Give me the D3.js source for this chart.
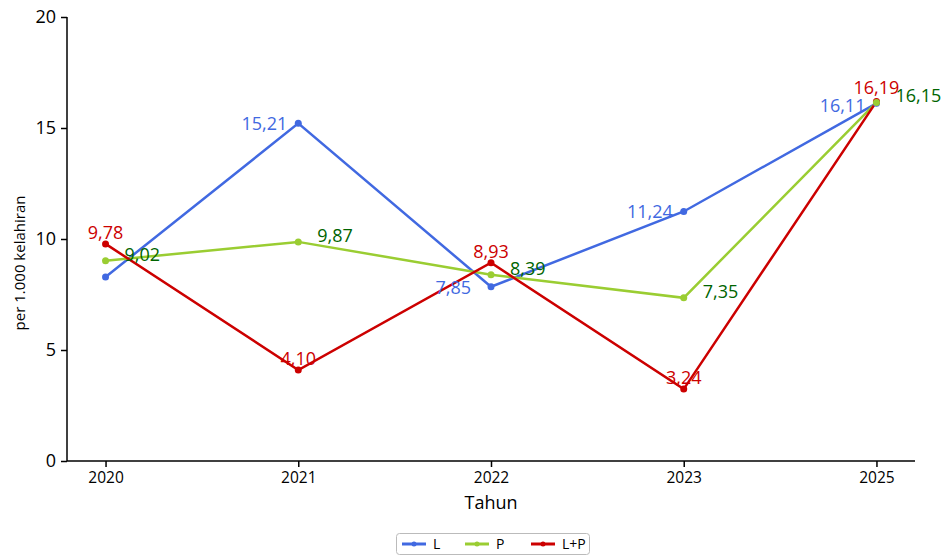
<!DOCTYPE html>
<html><head><meta charset="utf-8">
<script src="https://cdn.jsdelivr.net/npm/d3@7"></script>
<style>body{margin:0;background:#fff;font-family:"Open Sans",sans-serif;}</style>
</head><body>
<svg id="c" width="946" height="558" font-family="Open Sans"></svg>
<script>
const years = ["2020","2021","2022","2023","2025"];
const valL  = [8.29, 15.21, 7.85, 11.24, 16.11];
const valP  = [9.02, 9.87, 8.39, 7.35, 16.15];
const valLP = [9.78, 4.10, 8.93, 3.24, 16.19];
const showL = [false, true, true, true, true];
const yTicks = [0, 5, 10, 15, 20];
const seriesNames = ["L", "P", "L+P"];

const svg = d3.select("#c");
const m = {l:67, r:31, t:17, b:97};
const W = 946, H = 558;
const x = d3.scalePoint().domain(years).range([m.l, W - m.r]).padding(0.2);
const y = d3.scaleLinear().domain([0, 20]).range([H - m.b, m.t]);

const fmt = v => v.toFixed(2).replace(".", ",");

// axes
const gx = svg.append("g").attr("transform", `translate(0,${H - m.b})`)
  .call(d3.axisBottom(x).tickSizeOuter(0).tickSize(6).tickPadding(5));
const gy = svg.append("g").attr("transform", `translate(${m.l},0)`)
  .call(d3.axisLeft(y).tickValues(yTicks).tickSizeOuter(0).tickSize(6).tickPadding(5));
[gx, gy].forEach(g => {
  g.attr("font-family", "Open Sans");
  g.selectAll("text").attr("font-family", "Open Sans").attr("font-size", 15.5).attr("fill", "#000");
  g.selectAll("line,path").attr("stroke", "#000").attr("stroke-width", 1.5);
});
gy.selectAll("text").attr("font-size", 18);
gy.select(".domain").attr("d", `M0,${y(0)}V${y(20)}`);
gx.select(".domain").attr("d", `M${m.l},0H${W - m.r}`);

svg.append("text").attr("x", (m.l + W - m.r) / 2).attr("y", 509)
  .attr("text-anchor", "middle").attr("font-size", 18).text("Tahun");
svg.append("text").attr("transform", `translate(25,263) rotate(-90)`)
  .attr("text-anchor", "middle").attr("font-size", 15).text("per 1.000 kelahiran");

const series = [
  {name: "L", vals: valL, color: "#4169E1", lab: "#4169E1"},
  {name: "P", vals: valP, color: "#9ACD32", lab: "#006400"},
  {name: "L+P", vals: valLP, color: "#CC0000", lab: "#CC0000"}
];
const line = d3.line().x((d, i) => x(years[i])).y(d => y(d));

series.forEach(s => {
  svg.append("path").attr("d", line(s.vals)).attr("fill", "none")
    .attr("stroke", s.color).attr("stroke-width", 2.5);
});

// labels
series.forEach((s, si) => {
  s.vals.forEach((v, i) => {
    const px = x(years[i]), py = y(v);
    let t;
    if (si === 0) {
      if (!showL[i]) return;
      const dx = (i === 2) ? -20 : -11;
      const dy = (i === 4) ? 9 : 7;
      t = svg.append("text").attr("x", px + dx).attr("y", py + dy).attr("text-anchor", "end");
    } else if (si === 1) {
      t = svg.append("text").attr("x", px + 19).attr("y", py).attr("text-anchor", "start");
    } else {
      t = svg.append("text").attr("x", px).attr("y", py - (i === 4 ? 8 : 5)).attr("text-anchor", "middle");
    }
    t.attr("font-size", 18).attr("fill", s.lab).text(fmt(v));
  });
});

// points (P drawn last, on top)
[series[0], series[2], series[1]].forEach(s => {
  svg.append("g").selectAll("circle").data(s.vals).join("circle")
    .attr("cx", (d, i) => x(years[i])).attr("cy", d => y(d)).attr("r", 3.5)
    .attr("fill", s.color);
});

// legend
const lg = svg.append("g");
lg.append("rect").attr("x", 396.5).attr("y", 533.5).attr("width", 193).attr("height", 21)
  .attr("rx", 3).attr("fill", "#fff").attr("stroke", "#bbb");
const lx = [402, 465, 531];
series.forEach((s, i) => {
  lg.append("line").attr("x1", lx[i]).attr("x2", lx[i] + 24).attr("y1", 544).attr("y2", 544)
    .attr("stroke", s.color).attr("stroke-width", 3);
  lg.append("circle").attr("cx", lx[i] + 12).attr("cy", 544).attr("r", 2.5).attr("fill", s.color);
  lg.append("text").attr("x", lx[i] + 31).attr("y", 549).attr("font-size", 14).text(s.name);
});
</script>
</body></html>
